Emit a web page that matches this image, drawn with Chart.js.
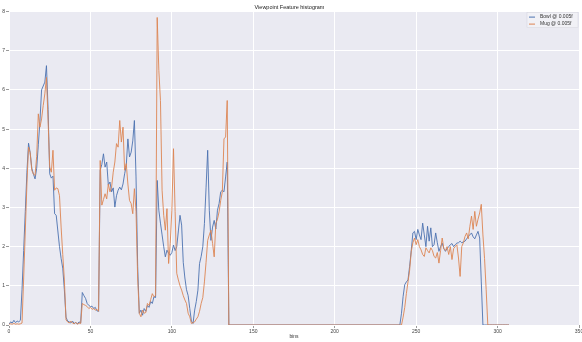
<!DOCTYPE html>
<html lang="en">
<head>
    <meta charset="UTF-8">
    <title>Viewpoint Feature histogram</title>
    <script src="https://cdn.jsdelivr.net/npm/chart.js"></script>
    <style>
        html, body { margin: 0; padding: 0; background: #ffffff; }
        #wrap { width: 582px; height: 342px; }
    </style>
</head>
<body>
    <div id="wrap"><canvas id="vfhChart" width="582" height="342"></canvas></div>

    <script>
        // Bowl: bins 0..135, then bins 240..307
        const bowlStartA = 0;
        const bowlA = [
            0.02, 0.08, 0.05, 0.12, 0.06, 0.10, 0.08, 0.12, 0.9, 1.9,
            2.9, 3.9, 4.64, 4.4, 4.0, 3.85, 3.73, 4.0, 4.6, 5.2,
            6.0, 6.1, 6.2, 6.62, 5.5, 3.86, 3.75, 3.8, 2.84, 2.8,
            2.4, 2.0, 1.7, 1.45, 0.9, 0.2, 0.1, 0.08, 0.05, 0.1,
            0.04, 0.06, 0.03, 0.08, 0.05, 0.83, 0.75, 0.68, 0.55, 0.5,
            0.47, 0.48, 0.42, 0.45, 0.36, 0.35, 3.95, 4.1, 4.37, 4.03,
            4.16, 3.57, 3.65, 3.4, 3.5, 3.01, 3.3, 3.44, 3.52, 3.45,
            3.6, 3.86, 4.07, 4.75, 4.29, 4.41, 4.7, 5.22, 3.78, 1.5,
            0.3, 0.38, 0.25, 0.42, 0.35, 0.5, 0.45, 0.6, 0.55, 0.72,
            0.7, 3.69, 2.93, 2.6, 2.3, 2.0, 1.74, 1.91, 1.83, 1.78,
            1.85, 2.04, 1.9, 2.0, 2.4, 2.8, 2.55, 1.6, 1.2, 0.9,
            0.75, 0.42, 0.1, 0.04, 0.38, 0.6, 0.89, 1.57, 1.75, 2.0,
            2.59, 3.5, 4.46, 2.93, 2.16, 2.5, 2.67, 2.45, 2.93, 3.1,
            3.4, 3.44, 3.4, 3.78, 4.16, 0
        ];
        const bowlStartB = 240;
        const bowlB = [
            0, 0.3, 0.73, 1.03, 1.1, 1.15, 1.5, 1.9, 2.35, 2.39,
            2.18, 2.44, 2.3, 2.18, 2.6, 2.3, 2.0, 2.52, 2.14, 2.48,
            2.0, 2.05, 2.35, 2.1, 1.88, 2.0, 2.09, 1.95, 1.88, 1.95,
            2.0, 2.05, 2.08, 2.0, 2.05, 2.09, 2.1, 2.14, 2.1, 2.12,
            2.14, 2.2, 2.26, 2.3, 2.35, 2.25, 2.2, 2.3, 2.39, 2.22,
            1.1, 0, 0, 0, 0, 0, 0, 0, 0, 0,
            0, 0, 0, 0, 0, 0, 0, 0
        ];

        // Mug: bins 0..135, then bins 241..307
        const mugStartA = 0;
        const mugA = [
            0.02, 0.03, 0.02, 0.04, 0.02, 0.03, 0.02, 0.03, 0.05, 1.2,
            2.4, 3.6, 4.54, 4.4, 3.95, 3.85, 3.82, 4.3, 5.39, 5.05,
            5.26, 5.6, 5.9, 6.32, 5.22, 4.03, 3.9, 4.46, 3.44, 3.5,
            3.48, 3.3, 2.5, 1.8, 1.15, 0.13, 0.08, 0.05, 0.1, 0.05,
            0.03, 0.07, 0.02, 0.05, 0.04, 0.55, 0.52, 0.5, 0.47, 0.42,
            0.45, 0.4, 0.42, 0.38, 0.4, 0.35, 4.2, 3.06, 3.2, 3.35,
            3.22, 3.6, 3.4, 3.52, 3.9, 4.16, 4.63, 4.54, 5.22, 4.67,
            5.05, 3.95, 4.12, 3.6, 3.18, 3.1, 2.84, 3.48, 2.9, 1.2,
            0.3, 0.21, 0.38, 0.3, 0.32, 0.55, 0.5, 0.65, 0.8, 0.72,
            0.75, 7.85, 6.5, 5.73, 3.44, 2.8, 2.42, 2.97, 1.57, 2.08,
            2.93, 4.5, 2.9, 1.32, 1.15, 1.0, 0.89, 0.75, 0.64, 0.55,
            0.3, 0.21, 0.04, 0.06, 0.08, 0.15, 0.21, 0.35, 0.55, 0.7,
            1.1, 1.6, 2.16, 2.3, 2.42, 2.08, 1.74, 2.59, 2.7, 2.89,
            3.18, 3.4, 4.75, 4.8, 5.73, 0
        ];
        const mugStartB = 241;
        const mugB = [
            0, 0.2, 0.45, 0.8, 1.1, 1.4, 1.88, 2.1, 2.22,
            2.05, 2.18, 2.0, 1.92, 1.8, 1.75, 1.97, 1.9, 1.84, 1.97,
            1.9, 1.75, 1.71, 1.85, 1.58, 1.9, 2.22, 1.95, 1.9, 2.0,
            1.8, 2.0, 1.67, 1.95, 2.0, 2.05, 1.71, 1.24, 2.0, 2.1,
            2.26, 2.35, 2.2, 2.52, 2.78, 2.44, 2.9, 2.52, 2.7, 2.86,
            3.08, 2.3, 1.7, 0.9, 0,
            0, 0, 0, 0, 0, 0, 0, 0, 0, 0, 0, 0, 0
        ];

        const xTicks = [0, 50, 100, 150, 200, 250, 300, 350];
        const yTicks = [0, 1, 2, 3, 4, 5, 6, 7, 8];

        const seriesLabels = ['Bowl @ 0.005f', 'Mug @ 0.005f'];
        const seriesColors = ['#4C72B0', '#DD8452'];

        // turn the segments into {x, y} points
        const toPoints = (segs) => segs.flatMap(([start, vals]) => vals.map((v, i) => ({ x: start + i, y: v })));

        const font = 'Liberation Sans, Arial, sans-serif';

        // seaborn-ish panel background
        const panelBg = {
            id: 'panelBg',
            beforeDraw(chart) {
                const { ctx, chartArea: a } = chart;
                ctx.save();
                ctx.fillStyle = '#EAEAF2';
                ctx.fillRect(a.left, a.top, a.right - a.left, a.bottom - a.top);
                ctx.restore();
            }
        };

        // small legend in the upper right of the panel
        const cornerLegend = {
            id: 'cornerLegend',
            afterDraw(chart) {
                const { ctx, chartArea: a } = chart;
                const x0 = a.right - 52, y0 = a.top + 1;
                ctx.save();
                ctx.fillStyle = 'rgba(255,255,255,0.35)';
                ctx.strokeStyle = 'rgba(210,210,220,0.9)';
                ctx.lineWidth = 0.5;
                ctx.fillRect(x0, y0, 51, 15);
                ctx.strokeRect(x0, y0, 51, 15);
                ctx.font = '5px ' + font;
                ctx.textBaseline = 'middle';
                chart.data.datasets.forEach((ds, i) => {
                    const y = y0 + 4.5 + i * 7;
                    ctx.strokeStyle = ds.borderColor;
                    ctx.lineWidth = 1;
                    ctx.beginPath();
                    ctx.moveTo(x0 + 2, y);
                    ctx.lineTo(x0 + 8, y);
                    ctx.stroke();
                    ctx.fillStyle = '#333333';
                    ctx.fillText(ds.label, x0 + 13, y);
                });
                ctx.restore();
            }
        };

        const ctx = document.getElementById('vfhChart').getContext('2d');
        new Chart(ctx, {
            type: 'line',
            data: {
                datasets: [
                    {
                        label: seriesLabels[0],
                        data: toPoints([[bowlStartA, bowlA], [bowlStartB, bowlB]]),
                        borderColor: seriesColors[0],
                        borderWidth: 0.9,
                        pointRadius: 0,
                        tension: 0,
                        fill: false,
                        order: 1
                    },
                    {
                        label: seriesLabels[1],
                        data: toPoints([[mugStartA, mugA], [mugStartB, mugB]]),
                        borderColor: seriesColors[1],
                        borderWidth: 0.9,
                        pointRadius: 0,
                        tension: 0,
                        fill: false,
                        order: 0
                    }
                ]
            },
            options: {
                responsive: false,
                animation: false,
                layout: { padding: { left: 0, right: 3, top: 0, bottom: 0 } },
                plugins: {
                    legend: { display: false },
                    tooltip: { enabled: false },
                    title: {
                        display: true,
                        text: 'Viewpoint Feature histogram',
                        color: '#222222',
                        font: { family: font, size: 5.5, weight: 'normal' },
                        padding: { top: 4, bottom: 1 }
                    }
                },
                scales: {
                    x: {
                        type: 'linear',
                        min: 0,
                        max: 350,
                        afterBuildTicks: (s) => { s.ticks = xTicks.map(v => ({ value: v })); },
                        afterFit: (s) => { s.height = 17; s.paddingLeft = 0; s.paddingRight = 0; },
                        grid: { color: '#ffffff', lineWidth: 1, tickLength: 3, tickColor: '#555555', tickWidth: 0.6 },
                        border: { display: false },
                        ticks: {
                            color: '#444444',
                            padding: 1,
                            maxRotation: 0,
                            autoSkip: false,
                            font: { family: font, size: 5 }
                        },
                        title: {
                            display: true,
                            text: 'bins',
                            color: '#333333',
                            font: { family: font, size: 5 },
                            padding: { top: 0, bottom: 2 }
                        }
                    },
                    y: {
                        min: 0,
                        max: 8,
                        afterBuildTicks: (s) => { s.ticks = yTicks.map(v => ({ value: v })); },
                        afterFit: (s) => { s.width = 9; },
                        grid: { color: '#ffffff', lineWidth: 1, tickLength: 3, tickColor: '#555555', tickWidth: 0.6 },
                        border: { display: false },
                        ticks: {
                            color: '#444444',
                            padding: 1,
                            font: { family: font, size: 5 }
                        }
                    }
                }
            },
            plugins: [panelBg, cornerLegend]
        });
    </script>
</body>
</html>
